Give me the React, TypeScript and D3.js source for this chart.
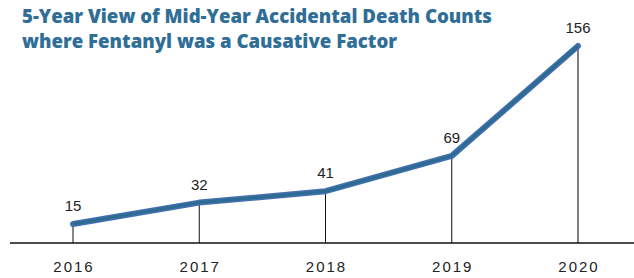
import React, { useRef, useEffect } from "react";
import * as d3 from "d3";

const years = ["2016", "2017", "2018", "2019", "2020"];
const deaths = [15, 32, 41, 69, 156];
const titleLines = [
  "5-Year View of Mid-Year Accidental Death Counts",
  "where Fentanyl was a Causative Factor",
];
const titleWidths = [470, 375];

export default function App() {
  const svgRef = useRef<SVGSVGElement | null>(null);

  useEffect(() => {
    const width = 634;
    const height = 278;
    const baseline = 243;

    const svg = d3.select(svgRef.current);
    svg.selectAll("*").remove();
    svg.attr("width", width).attr("height", height);

    const x = d3.scalePoint<string>().domain(years).range([73, 578]);
    const y = d3.scaleLinear().domain([0, 156]).range([baseline, 46]);

    const data = years.map((yr, i) => ({ year: yr, value: deaths[i] }));

    // title, stretched a little to match the wider original face
    svg
      .append("g")
      .selectAll("text")
      .data(titleLines)
      .enter()
      .append("text")
      .attr("x", 22)
      .attr("y", (_, i) => 23 + i * 25)
      .attr("font-family", "'Open Sans', Lato, sans-serif")
      .attr("font-weight", 800)
      .attr("font-size", "19px")
      .attr("fill", "#2f6e97")
      .attr("textLength", (_, i) => titleWidths[i])
      .attr("lengthAdjust", "spacingAndGlyphs")
      .text(d => d);

    // drop lines
    svg
      .append("g")
      .selectAll("line")
      .data(data)
      .enter()
      .append("line")
      .attr("x1", d => x(d.year) as number)
      .attr("x2", d => x(d.year) as number)
      .attr("y1", d => y(d.value))
      .attr("y2", baseline)
      .attr("stroke", (d, i) => (i === data.length - 1 ? "#555" : "#111"))
      .attr("stroke-width", (d, i) => (i === data.length - 1 ? 1.5 : 1));

    // baseline
    svg
      .append("line")
      .attr("x1", 10)
      .attr("x2", width)
      .attr("y1", baseline)
      .attr("y2", baseline)
      .attr("stroke", "#111")
      .attr("stroke-width", 1.5);

    // line
    const line = d3
      .line<{ year: string; value: number }>()
      .x(d => x(d.year) as number)
      .y(d => y(d.value));

    svg
      .append("path")
      .datum(data)
      .attr("fill", "none")
      .attr("stroke", "#4470b0")
      .attr("stroke-width", 6)
      .attr("stroke-linejoin", "round")
      .attr("stroke-linecap", "round")
      .attr("d", line);
    svg
      .append("path")
      .datum(data)
      .attr("fill", "none")
      .attr("stroke", "#2d6c92")
      .attr("stroke-width", 3)
      .attr("stroke-linejoin", "round")
      .attr("d", line);

    // value labels
    svg
      .append("g")
      .selectAll("text")
      .data(data)
      .enter()
      .append("text")
      .attr("x", d => x(d.year) as number)
      .attr("y", d => y(d.value) - 13)
      .attr("text-anchor", "middle")
      .attr("font-family", "'Liberation Sans', Arial, sans-serif")
      .attr("font-size", "15px")
      .attr("fill", "#222")
      .text(d => d.value);

    // year labels
    svg
      .append("g")
      .selectAll("text")
      .data(years)
      .enter()
      .append("text")
      .attr("x", d => (x(d) as number) + 1)
      .attr("y", 272)
      .attr("text-anchor", "middle")
      .attr("font-family", "'Liberation Sans', Arial, sans-serif")
      .attr("font-size", "15px")
      .attr("letter-spacing", "2px")
      .attr("fill", "#222")
      .text(d => d);
  }, []);

  return (
    <div style={{ position: "absolute", left: 0, top: 0, background: "#fff" }}>
      <svg ref={svgRef} style={{ display: "block" }}></svg>
    </div>
  );
}
